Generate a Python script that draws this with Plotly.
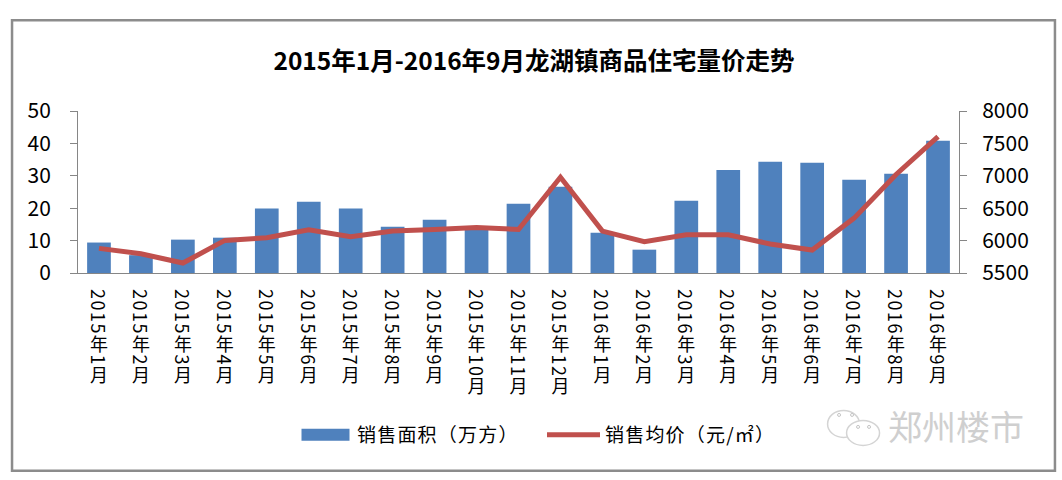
import plotly.graph_objs as go

# valeurs
months = ["2015年1月", "2015年2月", "2015年3月", "2015年4月", "2015年5月", "2015年6月", "2015年7月",
          "2015年8月", "2015年9月", "2015年10月", "2015年11月", "2015年12月", "2016年1月", "2016年2月",
          "2016年3月", "2016年4月", "2016年5月", "2016年6月", "2016年7月", "2016年8月", "2016年9月"]
area = [9.4, 5.5, 10.3, 10.9, 19.9, 22.0, 19.9, 14.3, 16.4, 13.9, 21.4, 26.6, 12.4, 7.2, 22.3, 31.8, 34.3, 34.0, 28.8, 30.6, 40.8]
price = [5880, 5798, 5654, 6003, 6044, 6167, 6060, 6147, 6172, 6203, 6172, 6978, 6147, 5983, 6090, 6090, 5947, 5854, 6347, 7020, 7605]

W, H = 1062, 480
FONT = "Noto Sans CJK SC"
L, R, T, B = 78, 959.5, 111, 273.3


def px(x):
    return (x - L) / (R - L)


def py(y):
    return (B - y) / (B - T)


fig = go.Figure()
fig.add_trace(go.Bar(x=months, y=area, name="销售面积（万方）", marker=dict(color="#4f81bd", line_width=0), width=0.565))
fig.add_trace(go.Scatter(x=months, y=price, name="销售均价（元/㎡）", mode="lines", yaxis="y2",
                         line=dict(color="#c0504d", width=5)))

# cadre extérieur
fig.add_shape(type="rect", xref="paper", yref="paper", x0=px(12), x1=px(1055.5), y0=py(471.5), y1=py(20),
              line=dict(color="#8c8c8c", width=2.5), layer="below")

# filigrane
fig.add_annotation(xref="paper", yref="paper", x=px(956), y=py(426), xanchor="center", yanchor="middle", text="郑州楼市",
                   showarrow=False, font=dict(family=FONT, size=34, color="#cfcfcf"))
for x0, x1, y0, y1 in [(828, 860, 411, 438), (847, 880, 421, 446)]:
    fig.add_shape(type="circle", xref="paper", yref="paper", x0=px(x0), x1=px(x1), y0=py(y1), y1=py(y0),
                  line=dict(color="#d4d4d4", width=1.5), fillcolor="white")
for x0 in [838, 851, 857, 868]:
    y0 = 414 if x0 in (838, 851) else 426
    fig.add_shape(type="circle", xref="paper", yref="paper", x0=px(x0), x1=px(x0 + 3), y0=py(y0 + 3), y1=py(y0),
                  line=dict(color="#c4c4c4", width=1), fillcolor="white")

fig.update_layout(
    width=W, height=H, autosize=False,
    margin=dict(l=L, r=W - R, t=T, b=H - B, autoexpand=False),
    paper_bgcolor="white", plot_bgcolor="white", font=dict(family=FONT, color="black"),
    title=dict(text="<b>2015年1月-2016年9月龙湖镇商品住宅量价走势</b>", x=534 / W, xanchor="center", y=1 - 61 / H, yanchor="middle",
               font=dict(size=24.5, color="black")),
    showlegend=True,
    legend=dict(orientation="h", x=294 / W, xref="container", y=1 - 435 / H, yref="container", yanchor="middle",
                itemwidth=53, font=dict(size=19), entrywidth=180, entrywidthmode="pixels", traceorder="normal"),
    xaxis=dict(type="category", tickmode="array", tickvals=months, ticktext=months, tickangle=0, ticks="", showgrid=False,
               showline=True, linecolor="#868686", linewidth=1, tickfont=dict(size=18, color="black"), range=[-0.5, 20.5]),
    yaxis=dict(range=[0, 50], dtick=10, ticks="outside", ticklen=7, tickcolor="#868686", showgrid=False, showline=True,
               linecolor="#868686", tickfont=dict(size=21, color="black"), zeroline=False, ticklabelstandoff=15),
    yaxis2=dict(range=[5500, 8000], dtick=500, overlaying="y", side="right", ticks="outside", ticklen=7, tickcolor="#868686",
                showgrid=False, showline=True, linecolor="#868686", tickfont=dict(size=21, color="black"), zeroline=False,
                ticklabelstandoff=11),
    bargap=0.43,
)

# texte vertical pour les mois et pastille large pour la légende
post = """
document.body.style.margin = '0';
function fixLabels() {
  document.querySelectorAll('.xtick text').forEach(function (t) {
    t.style.writingMode = 'vertical-rl';
    t.style.letterSpacing = '1.5px';
    t.setAttribute('text-anchor', 'start');
    t.setAttribute('y', '289');
  });
  document.querySelectorAll('.legendsymbols .legendpoints path').forEach(function (p) {
    p.setAttribute('d', 'M24,6H-24V-6H24Z');
  });
  document.querySelectorAll('.legendtext').forEach(function (t) {
    t.style.letterSpacing = '1.2px';
  });
}
fixLabels();
setTimeout(fixLabels, 50);
"""
fig.write_html("out.html", post_script=post, config=dict(displayModeBar=False))
